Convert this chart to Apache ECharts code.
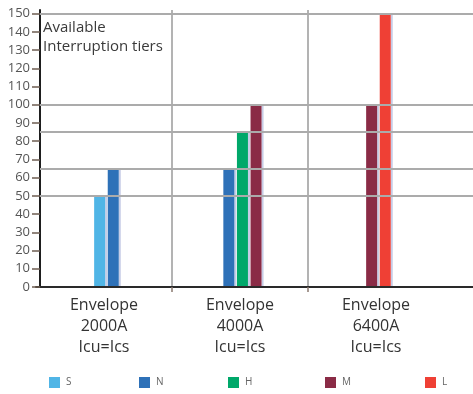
<!DOCTYPE html>
<html>
<head>
<meta charset="utf-8">
<script src="https://cdn.jsdelivr.net/npm/echarts@6/dist/echarts.min.js"></script>
<style>
  html, body { margin: 0; padding: 0; background: #ffffff; }
  #chart { width: 473px; height: 394px; }
</style>
</head>
<body>
<div id="chart"></div>
<script>
// Frame sizes (x categories)
const envelopes = ['Envelope\n2000A\nIcu=Ics', 'Envelope\n4000A\nIcu=Ics', 'Envelope\n6400A\nIcu=Ics'];

// Interruption tiers and their breaking capacity (kA) per envelope; null = tier not offered
const tierNames = ['S', 'N', 'H', 'M', 'L'];
const tierS = [50, null, null];
const tierN = [65, 65, null];
const tierH = [null, 85, null];
const tierM = [null, 100, 100];
const tierL = [null, null, 150];

// Y axis tick labels
const yTicks = [0, 10, 20, 30, 40, 50, 60, 70, 80, 90, 100, 110, 120, 130, 140, 150];

// Reference levels drawn across the plot
const guideLevels = [50, 65, 85, 100, 150];

const tierValues = [tierS, tierN, tierH, tierM, tierL];
const tierColors = ['#50b5e6', '#2e71b8', '#00a86a', '#8a2b46', '#ef4035'];
const FONT = '"Open Sans", sans-serif';

// Bars of each envelope are grouped and centred in their band
function renderTier(tierIdx) {
  return function (params, api) {
    const cat = api.value(0);
    const val = api.value(1);
    const present = [];
    tierValues.forEach(function (vals, k) { if (vals[cat] != null) present.push(k); });
    const slot = present.indexOf(tierIdx);
    const band = api.size([1, 0])[0];
    const pitch = band * 0.1;
    const w = band * 0.081;
    const base = api.coord([cat, 0]);
    const top = api.coord([cat, val]);
    const cx = base[0] + band * 0.018 + (slot - (present.length - 1) / 2) * pitch;
    const x = cx - w / 2;
    const h = base[1] - top[1];
    return {
      type: 'group',
      children: [
        { type: 'rect', shape: { x: x + w, y: top[1], width: 2, height: h }, style: { fill: '#c6cce6' } },
        { type: 'rect', shape: { x: x, y: top[1], width: w, height: h }, style: { fill: api.visual('color') } }
      ]
    };
  };
}

const tierSeries = tierNames.map(function (name, k) {
  return {
    name: name,
    type: 'custom',
    xAxisIndex: 0,
    yAxisIndex: 0,
    z: 2,
    itemStyle: { color: tierColors[k] },
    encode: { x: 0, y: 1 },
    data: tierValues[k].map(function (v, i) { return [i, v]; }).filter(function (d) { return d[1] != null; }),
    renderItem: renderTier(k)
  };
});

const legendLeft = [49, 139, 228, 325, 425];
const legends = tierNames.map(function (name, k) {
  return {
    data: [name],
    left: legendLeft[k],
    top: 377,
    padding: 0,
    itemGap: 0,
    itemWidth: 11,
    itemHeight: 11,
    icon: 'rect',
    selectedMode: false,
    textStyle: { fontSize: 10, color: '#666', fontFamily: FONT, padding: [0, 0, 0, 1] }
  };
});

const chart = echarts.init(document.getElementById('chart'), null, { renderer: 'canvas' });
chart.setOption({
  animation: false,
  backgroundColor: '#ffffff',
  title: {
    text: 'Available\nInterruption tiers',
    left: 43,
    top: 18,
    padding: 0,
    textStyle: { fontSize: 15, lineHeight: 19, fontWeight: 'normal', color: '#3a3a3a', fontFamily: FONT }
  },
  legend: legends,
  grid: [
    // four bands of equal width; the fourth is an empty spacer running past the right edge
    { left: 36, top: 10, width: 544, height: 277, outerBoundsMode: 'none' },
    { left: 40, top: 10, width: 450, height: 277, outerBoundsMode: 'none' }
  ],
  xAxis: [
    {
      type: 'category',
      gridIndex: 0,
      data: envelopes.concat(['']),
      z: 3,
      axisLine: { lineStyle: { color: '#2a2a2a', width: 2 } },
      axisTick: {
        show: true,
        interval: function (i) { return i === 1 || i === 2; },
        length: 5,
        lineStyle: { color: '#8a7a70', width: 1.5 }
      },
      splitLine: {
        show: true,
        interval: function (i) { return i === 1 || i === 2; },
        lineStyle: { color: '#b3b3b3', width: 2 }
      },
      axisLabel: {
        interval: 0,
        margin: 8,
        fontSize: 16,
        lineHeight: 21,
        color: '#333',
        fontFamily: FONT
      }
    },
    { type: 'value', gridIndex: 1, min: 0, max: 1, show: false }
  ],
  yAxis: [
    {
      type: 'value',
      gridIndex: 0,
      min: 0,
      max: 152,
      offset: -4,
      z: 3,
      axisLine: { show: true, lineStyle: { color: '#1e1e1e', width: 2 } },
      axisTick: { show: true, customValues: yTicks, length: 8, lineStyle: { color: '#6e5d52', width: 1.5 } },
      axisLabel: { customValues: yTicks, margin: 10, fontSize: 13, color: '#555', fontFamily: FONT, padding: [0, 0, 3, 0] },
      splitLine: { show: false }
    },
    { type: 'value', gridIndex: 1, min: 0, max: 152, show: false }
  ],
  series: tierSeries.concat([{
    name: 'guides',
    type: 'line',
    xAxisIndex: 1,
    yAxisIndex: 1,
    data: [],
    z: 5,
    markLine: {
      silent: true,
      symbol: ['none', 'none'],
      label: { show: false },
      z: 5,
      lineStyle: { color: '#ababab', width: 2, type: 'solid' },
      emphasis: { disabled: true },
      data: guideLevels.map(function (v) { return { yAxis: v }; })
    }
  }])
});
</script>
</body>
</html>
